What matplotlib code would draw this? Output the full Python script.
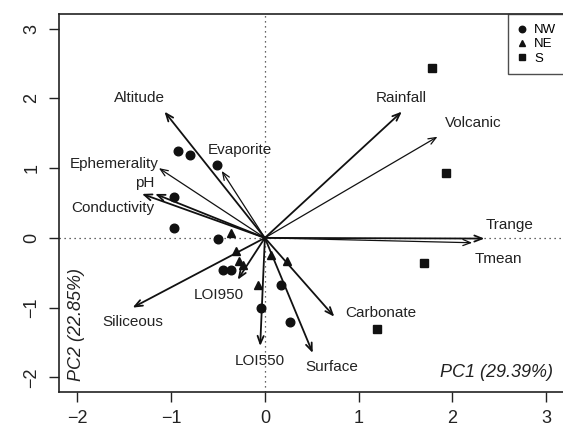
import matplotlib
matplotlib.use("Agg")
import matplotlib.pyplot as plt

plt.rcParams['font.family'] = ['Liberation Sans', 'DejaVu Sans']

# site scores on PC1 / PC2, by region
nw_pc1 = [-0.93, -0.80, -0.51, -0.97, -0.97, -0.50, -0.45, -0.36, -0.04, 0.17, 0.27]
nw_pc2 = [1.25, 1.19, 1.05, 0.59, 0.14, -0.01, -0.46, -0.46, -1.00, -0.68, -1.20]
ne_pc1 = [-0.36, -0.31, -0.28, -0.23, -0.07, 0.06, 0.24]
ne_pc2 = [0.07, -0.19, -0.33, -0.39, -0.68, -0.24, -0.33]
s_pc1 = [1.78, 1.93, 1.70, 1.19]
s_pc2 = [2.43, 0.93, -0.36, -1.30]

# environmental variable loadings
var_names = ["Altitude", "Evaporite", "Ephemerality", "pH", "Conductivity",
             "Rainfall", "Volcanic", "Trange", "Tmean", "Carbonate",
             "Surface", "Siliceous", "LOI950", "LOI550"]
var_pc1 = [-1.07, -0.46, -1.13, -1.17, -1.31, 1.46, 1.84, 2.34, 2.21, 0.74,
           0.51, -1.41, -0.29, -0.05]
var_pc2 = [1.81, 0.96, 1.00, 0.63, 0.63, 1.81, 1.45, -0.01, -0.07, -1.13,
           -1.65, -1.00, -0.60, -1.55]

# where each variable name sits
label_pos = {
    "Altitude": (-1.34, 2.00), "Evaporite": (-0.27, 1.26),
    "Ephemerality": (-1.61, 1.06), "pH": (-1.28, 0.79),
    "Conductivity": (-1.62, 0.43), "Rainfall": (1.45, 2.00),
    "Volcanic": (2.22, 1.64), "Trange": (2.61, 0.19), "Tmean": (2.49, -0.30),
    "Carbonate": (1.24, -1.08), "Surface": (0.71, -1.85),
    "Siliceous": (-1.41, -1.21), "LOI950": (-0.49, -0.82),
    "LOI550": (-0.05, -1.77),
}
thin = {"Evaporite", "Ephemerality", "Volcanic", "Tmean"}

fig = plt.figure(figsize=(5.63, 4.32), dpi=100)
ax = fig.add_axes([58.5 / 563, 40 / 432, (566 - 58.5) / 563, (392 - 14) / 432])

ax.axhline(0, color="#333333", lw=0.9, ls=(0, (1, 3)))
ax.axvline(0, color="#333333", lw=0.9, ls=(0, (1, 3)))

for name, vx, vy in zip(var_names, var_pc1, var_pc2):
    lw = 0.9 if name in thin else 1.3
    ax.annotate("", xy=(vx, vy), xytext=(0, 0),
                arrowprops=dict(arrowstyle="->,head_length=0.55,head_width=0.22",
                                lw=lw, color="#111111", shrinkA=0, shrinkB=0))
    lx, ly = label_pos[name]
    ax.text(lx, ly, name, fontsize=11, ha="center", va="center", color="#222222")

ax.plot(nw_pc1, nw_pc2, "o", color="#111111", ms=6.2, ls="none", label="NW")
ax.plot(ne_pc1, ne_pc2, "^", color="#111111", ms=6.2, ls="none", label="NE")
ax.plot(s_pc1, s_pc2, "s", color="#111111", ms=5.2, ls="none", label="S")

ax.set_xlim(-2.20, 3.21)
ax.set_ylim(-2.21, 3.21)
ax.set_xticks([-2, -1, 0, 1, 2, 3])
ax.set_yticks([-2, -1, 0, 1, 2, 3])
ax.tick_params(labelsize=13, length=7, width=1, pad=6, colors="#222222")
for t in ax.get_yticklabels():
    t.set_rotation(90)
    t.set_va("center")
for sp in ax.spines.values():
    sp.set_linewidth(1.2)
    sp.set_color("#222222")

ax.text(0.975, 0.03, "PC1 (29.39%)", transform=ax.transAxes, fontsize=13,
        style="italic", ha="right", va="bottom", color="#222222")
ax.text(0.035, 0.03, "PC2 (22.85%)", transform=ax.transAxes, fontsize=13,
        style="italic", ha="center", va="bottom", rotation=90, color="#222222")

leg = ax.legend(loc="upper right", fontsize=9.5, frameon=True, fancybox=False,
                borderaxespad=0, handlelength=0.6, handletextpad=0.6,
                labelspacing=0.15, borderpad=0.75, markerscale=0.75)
leg.get_frame().set_edgecolor("#222222")
leg.get_frame().set_linewidth(1.0)

fig.savefig("out.png", dpi=100)
